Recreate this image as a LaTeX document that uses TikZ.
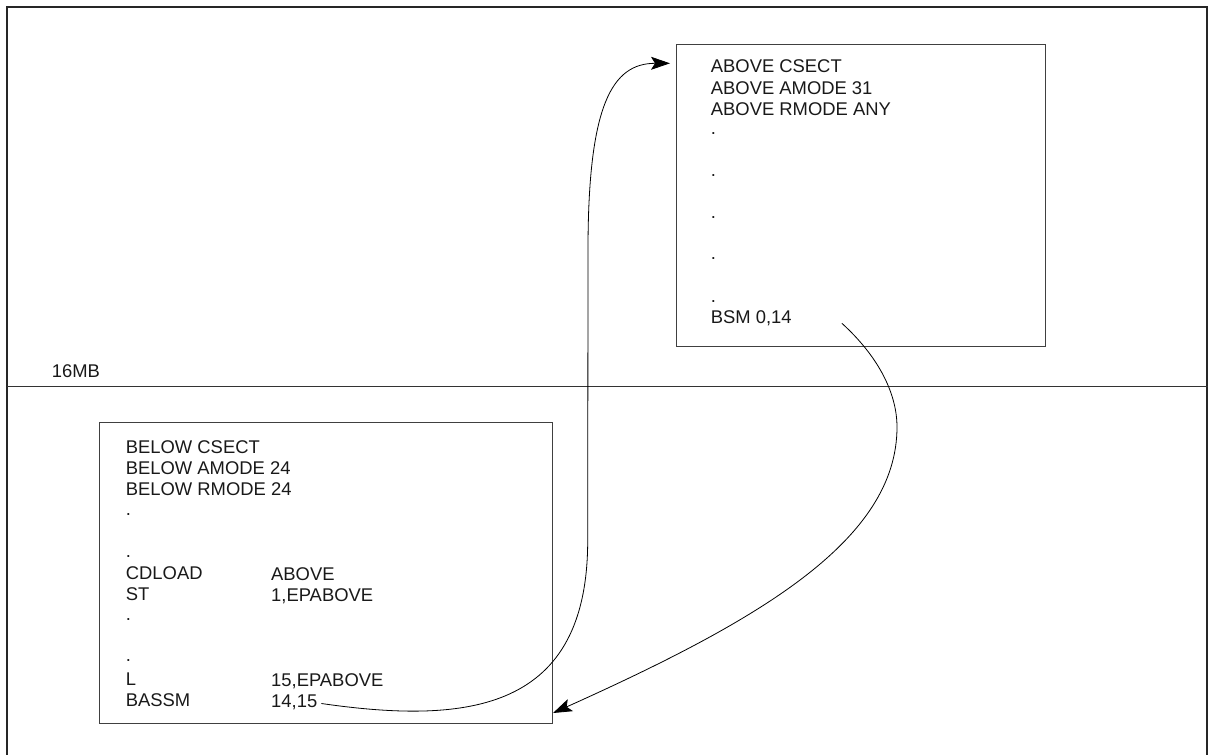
\documentclass[tikz,border=0pt]{standalone}
\usepackage{fontspec}
\setmainfont{Liberation Sans}
\usetikzlibrary{arrows.meta}
\begin{document}
\begin{tikzpicture}[x=1pt,y=-1pt,
  frame/.style={line width=1.6pt,draw=black!85},
  divider/.style={line width=1pt,draw=black!80},
  box/.style={draw=black!75,line width=1.1pt,rectangle,inner sep=0pt},
  txt/.style={anchor=base west,inner sep=0pt,font=\fontsize{18.4}{21}\selectfont,text=black!90},
  conn/.style={line width=0.8pt,draw=black,-{Stealth[length=19pt,width=13pt,inset=4pt]}}]
\useasboundingbox (0,0) rectangle (1208,755);
% frame (open at bottom)
\draw[frame] (7,755) -- (7,7) -- (1207,7) -- (1207,755);
\coordinate (divL) at (7,386.7);
\coordinate (divR) at (1208,386.7);
\draw[divider] (divL) -- (divR);
\node[txt] (mb) at (51.7,377.5) {16MB};
% boxes
\node[box,anchor=north west,minimum width=369.3pt,minimum height=301.7pt] (upper) at (675.7,44) {};
\node[box,anchor=north west,minimum width=453pt,minimum height=301.3pt] (lower) at (99,421.7) {};
% upper text
\node[txt] (a1) at (710.7,72.7) {ABOVE CSECT};
\node[txt] (a2) at (710.7,94) {ABOVE AMODE 31};
\node[txt] (a3) at (710.7,115.3) {ABOVE RMODE ANY};
\node[txt] (ad1) at (710.7,134.5) {.};
\node[txt] (ad2) at (710.7,176) {.};
\node[txt] (ad3) at (710.7,218) {.};
\node[txt] (ad4) at (710.7,259.5) {.};
\node[txt] (ad5) at (710.7,302.5) {.};
\node[txt] (bsm) at (710.7,323.3) {BSM 0,14};
% lower text
\node[txt] (b1) at (125.7,453.3) {BELOW CSECT};
\node[txt] (b2) at (125.7,474.5) {BELOW AMODE 24};
\node[txt] (b3) at (125.7,495.7) {BELOW RMODE 24};
\node[txt] (bd1) at (125.7,515.5) {.};
\node[txt] (bd2) at (125.7,557) {.};
\node[txt] (cd) at (125.7,579.5) {CDLOAD};
\node[txt] (cdo) at (271,580.5) {ABOVE};
\node[txt] (st) at (125.7,600.7) {ST};
\node[txt] (sto) at (271,601) {1,EPABOVE};
\node[txt] (bd3) at (125.7,620.5) {.};
\node[txt] (bd4) at (125.7,661.5) {.};
\node[txt] (l) at (125.7,685.7) {L};
\node[txt] (lo) at (271,686) {15,EPABOVE};
\node[txt] (bassm) at (125.7,706.7) {BASSM};
\node[txt] (n1415) at (271,707) {14,15};
% connector end points
\coordinate (s1) at ([xshift=4pt,yshift=3.5pt]n1415.base east);
\coordinate (t1) at (670,63.3);
\coordinate (s2) at ([xshift=50pt]bsm.base east);
\coordinate (t2) at (553,713);
% BASSM -> ABOVE
\draw[conn] (s1) .. controls (470,725) and (588,710) .. (587.7,540)
  -- (588,250) .. controls (588,105) and (612,63.3) .. (t1);
% BSM -> back below
\draw[conn] (s2) .. controls (880,358) and (897,395) .. (897,427)
  .. controls (897,540) and (760,620) .. (t2);
\end{tikzpicture}
\end{document}
